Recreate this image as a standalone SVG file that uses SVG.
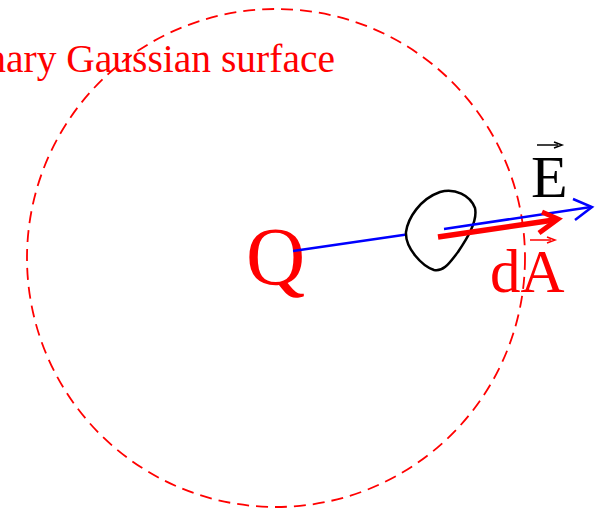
<svg xmlns="http://www.w3.org/2000/svg" width="604" height="512" viewBox="0 0 604 512">
<style>
.t{font-family:"Liberation Serif","Times New Roman",serif}
.red{fill:#ff0000}
</style>
<rect width="604" height="512" fill="#ffffff"/>
<g id="surface">
<circle cx="276" cy="258" r="249" fill="none" stroke="#ff0000" stroke-width="1.8" stroke-dasharray="12,7"/>
<text class="t red" x="335" y="72" font-size="39.5" text-anchor="end">nary Gaussian surface</text>
</g>
<g id="charge">
<text class="t red" x="246" y="284" font-size="82">Q</text>
</g>
<g id="connectors">
<line x1="293" y1="251" x2="410" y2="234" stroke="#0000ff" stroke-width="2.5"/>
</g>
<g id="patch">
<path d="M406,232 C408,218 420,199 440,192 C455,188 470,195 475,208 C478,222 466,240 458,252 C450,262 444,272 434,270 C422,266 405,248 406,232 Z" fill="#ffffff" stroke="#000000" stroke-width="2.5"/>
</g>
<g id="field">
<line x1="444" y1="229" x2="591" y2="207" stroke="#0000ff" stroke-width="2.5"/>
<polyline points="573,199 592,207 575,220" fill="none" stroke="#0000ff" stroke-width="2.5"/>
<text class="t" x="531" y="197" font-size="60">E</text>
<line x1="537" y1="145" x2="558" y2="145" stroke="#000" stroke-width="1.5"/>
<polyline points="554,142 562,145 554,148" fill="none" stroke="#000" stroke-width="1.5"/>
</g>
<g id="area">
<line x1="438" y1="237" x2="554" y2="220" stroke="#ff0000" stroke-width="5.5"/>
<polyline points="542,212 558,219 539,233" fill="none" stroke="#ff0000" stroke-width="5" stroke-linejoin="miter"/>
<text class="t red" x="490" y="292" font-size="61">dA</text>
<line x1="530" y1="240" x2="551" y2="240" stroke="#ff0000" stroke-width="1.5"/>
<polyline points="547,237 555,240 547,243" fill="none" stroke="#ff0000" stroke-width="1.5"/>
</g>
</svg>
